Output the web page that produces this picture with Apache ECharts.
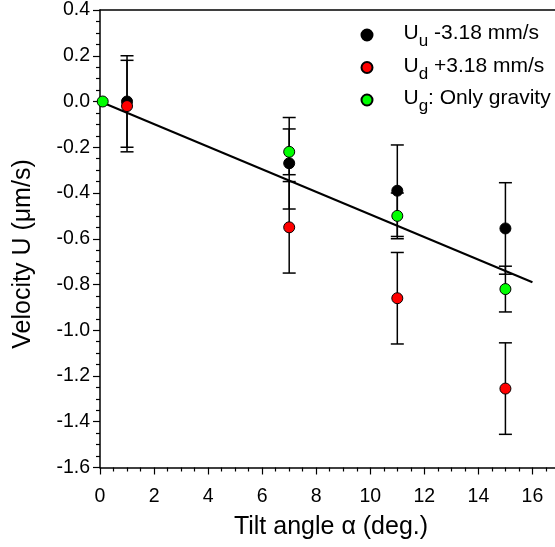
<!DOCTYPE html>
<html>
<head>
<meta charset="utf-8">
<script src="https://cdn.jsdelivr.net/npm/echarts@6/dist/echarts.min.js"></script>
<style>
html,body{margin:0;padding:0;background:#fff;}
#chart{width:555px;height:547px;}
</style>
</head>
<body>
<div id="chart"></div>
<script>
// ---- data ----
const seriesNames = ['Uu', 'Ud', 'Ug'];
const uuAngle = [1, 7, 11, 15];
const uuVel   = [0.0, -0.27, -0.39, -0.555];
const uuErr   = [0.2, 0.2, 0.2, 0.2];
const udAngle = [1, 7, 11, 15];
const udVel   = [-0.02, -0.55, -0.86, -1.255];
const udErr   = [0.2, 0.2, 0.2, 0.2];
const ugAngle = [0.1, 7, 11, 15];
const ugVel   = [0.0, -0.22, -0.50, -0.82];
const ugErr   = [0, 0.1, 0.1, 0.1];
const fitAngle = [0, 16];
const fitVel   = [0.0, -0.79];
const xTicks = [0, 2, 4, 6, 8, 10, 12, 14, 16];
const yTicks = [0.4, 0.2, 0.0, -0.2, -0.4, -0.6, -0.8, -1.0, -1.2, -1.4, -1.6];

const FONT = '"Liberation Sans", Arial, sans-serif';
const colors = {Uu: '#000000', Ud: '#ff0000', Ug: '#00ff00'};

function pts(xs, ys) { return xs.map((x, i) => [x, ys[i]]); }
function errData(xs, ys, es) { return xs.map((x, i) => [x, ys[i] - es[i], ys[i] + es[i]]).filter((d, i) => es[i] > 0); }

function errSeries(data) {
  return {
    type: 'custom',
    silent: true,
    z: 1,
    data: data,
    renderItem: function (params, api) {
      const x = api.value(0);
      const lo = api.coord([x, api.value(1)]);
      const hi = api.coord([x, api.value(2)]);
      const hw = 6.5;
      const st = {stroke: '#000', lineWidth: 1.5};
      return {
        type: 'group',
        children: [
          {type: 'line', shape: {x1: lo[0], y1: lo[1], x2: hi[0], y2: hi[1]}, style: st},
          {type: 'line', shape: {x1: lo[0] - hw, y1: lo[1], x2: lo[0] + hw, y2: lo[1]}, style: st},
          {type: 'line', shape: {x1: hi[0] - hw, y1: hi[1], x2: hi[0] + hw, y2: hi[1]}, style: st}
        ]
      };
    }
  };
}

function scatter(name, xs, ys) {
  return {
    name: name,
    type: 'scatter',
    z: 5,
    symbol: 'circle',
    symbolSize: 11,
    itemStyle: {color: colors[name], borderColor: '#000', borderWidth: 1, opacity: 1},
    data: pts(xs, ys)
  };
}

const legendText = {
  Uu: '{u|U}{s|u}{b| -3.18 mm/s}',
  Ud: '{u|U}{s|d}{b| +3.18 mm/s}',
  Ug: '{u|U}{s|g}{b|: Only gravity}'
};

const chart = echarts.init(document.getElementById('chart'), null, {renderer: 'canvas'});
const axisCommon = {
  type: 'value',
  axisLine: {show: true, onZero: false, lineStyle: {color: '#000', width: 1.5}},
  splitLine: {show: false},
  axisTick: {show: true, inside: false, length: 7, lineStyle: {color: '#000', width: 1.2}},
  minorTick: {show: true, splitNumber: 4, length: 4, lineStyle: {color: '#000', width: 1.2}},
  axisLabel: {color: '#000', fontFamily: FONT, fontSize: 19.5}
};

chart.setOption({
  animation: false,
  backgroundColor: '#fff',
  grid: {left: 100, top: 10, right: -31.5, bottom: 79.5, containLabel: false, outerBoundsMode: 'none'},
  xAxis: [
    Object.assign({}, axisCommon, {
      position: 'bottom', min: 0, max: 18, interval: 2,
      axisLabel: Object.assign({}, axisCommon.axisLabel, {margin: 19,
        formatter: v => xTicks.indexOf(v) >= 0 ? String(v) : ''})
    }),
    {type: 'value', position: 'top', min: 0, max: 18,
     axisLine: {show: true, onZero: false, lineStyle: {color: '#000', width: 1.5}},
     axisTick: {show: false}, axisLabel: {show: false}, splitLine: {show: false}}
  ],
  yAxis: Object.assign({}, axisCommon, {
    min: -1.6, max: 0.4, interval: 0.2,
    axisLabel: Object.assign({}, axisCommon.axisLabel, {margin: 10,
      formatter: v => { const t = yTicks.find(k => Math.abs(k - v) < 1e-9); return t === undefined ? '' : t.toFixed(1); }})
  }),
  legend: {
    orient: 'vertical',
    left: 360.5, top: 23,
    padding: 0,
    itemWidth: 11, itemHeight: 11, itemGap: 5.5,
    icon: 'circle',
    data: seriesNames,
    formatter: n => legendText[n],
    textStyle: {
      color: '#000',
      rich: {
        u: {fontFamily: FONT, fontSize: 21, color: '#000', verticalAlign: 'top', lineHeight: 24, padding: [0, 0, 0, 26]},
        b: {fontFamily: FONT, fontSize: 21, color: '#000', verticalAlign: 'top', lineHeight: 24},
        s: {fontFamily: FONT, fontSize: 17, color: '#000', verticalAlign: 'top', lineHeight: 18, padding: [10, 0, 0, 0]}
      }
    }
  },
  graphic: [
    {type: 'text', x: 23, y: 254, rotation: Math.PI / 2,
     style: {text: 'Velocity U (\u03bcm/s)', font: '25px ' + FONT, fill: '#000', align: 'center', verticalAlign: 'middle'}},
    {type: 'text', x: 331, y: 527,
     style: {text: 'Tilt angle \u03b1 (deg.)', font: '25px ' + FONT, fill: '#000', align: 'center', verticalAlign: 'middle'}}
  ],
  series: [
    errSeries(errData(uuAngle, uuVel, uuErr)),
    errSeries(errData(udAngle, udVel, udErr)),
    errSeries(errData(ugAngle, ugVel, ugErr)),
    {type: 'line', silent: true, z: 3, symbol: 'none', data: pts(fitAngle, fitVel),
     lineStyle: {color: '#000', width: 2}},
    scatter('Uu', uuAngle, uuVel),
    scatter('Ud', udAngle, udVel),
    scatter('Ug', ugAngle, ugVel)
  ]
});
</script>
</body>
</html>
